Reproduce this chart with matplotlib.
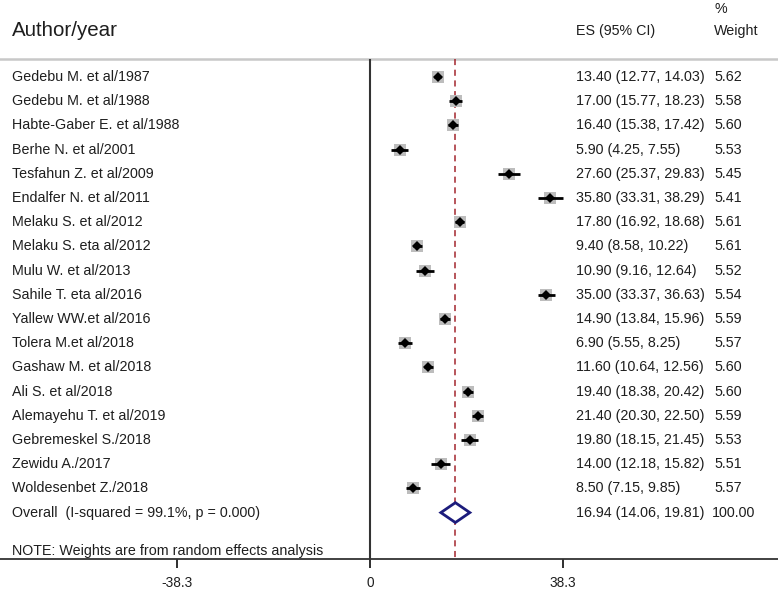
import matplotlib.pyplot as plt
import numpy as np

plt.rcParams['font.family'] = ['Liberation Sans', 'DejaVu Sans']

# study data
studies = ['Gedebu M. et al/1987', 'Gedebu M. et al/1988', 'Habte-Gaber E. et al/1988',
           'Berhe N. et al/2001', 'Tesfahun Z. et al/2009', 'Endalfer N. et al/2011',
           'Melaku S. et al/2012', 'Melaku S. eta al/2012', 'Mulu W. et al/2013',
           'Sahile T. eta al/2016', 'Yallew WW.et al/2016', 'Tolera M.et al/2018',
           'Gashaw M. et al/2018', 'Ali S. et al/2018', 'Alemayehu T. et al/2019',
           'Gebremeskel S./2018', 'Zewidu A./2017', 'Woldesenbet Z./2018']
es = [13.40, 17.00, 16.40, 5.90, 27.60, 35.80, 17.80, 9.40, 10.90,
      35.00, 14.90, 6.90, 11.60, 19.40, 21.40, 19.80, 14.00, 8.50]
lo = [12.77, 15.77, 15.38, 4.25, 25.37, 33.31, 16.92, 8.58, 9.16,
      33.37, 13.84, 5.55, 10.64, 18.38, 20.30, 18.15, 12.18, 7.15]
hi = [14.03, 18.23, 17.42, 7.55, 29.83, 38.29, 18.68, 10.22, 12.64,
      36.63, 15.96, 8.25, 12.56, 20.42, 22.50, 21.45, 15.82, 9.85]
weights = [5.62, 5.58, 5.60, 5.53, 5.45, 5.41, 5.61, 5.61, 5.52,
           5.54, 5.59, 5.57, 5.60, 5.60, 5.59, 5.53, 5.51, 5.57]

overall_es, overall_lo, overall_hi = 16.94, 14.06, 19.81
overall_label = 'Overall  (I-squared = 99.1%, p = 0.000)'
note = 'NOTE: Weights are from random effects analysis'
xticks = [-38.3, 0, 38.3]
xtick_labels = ['-38.3', '0', '38.3']

TXT = '#1e1e1e'
FS = 10.3
W, H = 778, 592
PX = 38.3 / 193.0      # data units per pixel
ROW = 24.2             # pixels per row

fig = plt.figure(figsize=(W / 100, H / 100), dpi=100)
ax = fig.add_axes([0, 0, 1, 1])
ax.set_xlim(-370 * PX, (W - 370) * PX)
ax.set_ylim((H - 77) / ROW, -77 / ROW)
tr = ax.get_yaxis_transform()

n = len(studies)
y = np.arange(n)
y_overall = n
y_note = (551 - 77) / ROW
y_axis = (559 - 77) / ROW
y_hline = (59 - 77) / ROW
y_head = (31 - 77) / ROW
y_pct = (9 - 77) / ROW

# header
ax.axhline(y_hline, color='#c8c8c8', lw=1.8)
ax.text(0.015, y_head, 'Author/year', transform=tr, fontsize=14.8, color=TXT, va='center')
ax.text(0.740, y_head, 'ES (95% CI)', transform=tr, fontsize=FS, color=TXT, va='center')
ax.text(0.918, y_head, 'Weight', transform=tr, fontsize=FS, color=TXT, va='center')
ax.text(0.918, y_pct, '%', transform=tr, fontsize=FS, color=TXT, va='center')

# reference lines
ax.vlines(0, y_hline, y_axis, color='#333333', lw=1.5)
ax.vlines(overall_es, y_hline, y_axis, color='#a3262e', lw=1.1,
          linestyles=(0, (4, 3)))

# studies
for i in range(n):
    ax.plot(es[i], y[i], marker='s', color='#bdbdbd', ms=9.2 * np.sqrt(weights[i] / 5.62),
            mew=0, zorder=2)
    ax.plot([lo[i], hi[i]], [y[i], y[i]], color='black', lw=2.0, solid_capstyle='butt', zorder=3)
    ax.plot(es[i], y[i], marker='D', color='black', ms=5.6, mew=0, zorder=4)
    ax.text(0.015, y[i], studies[i], transform=tr, fontsize=FS, color=TXT, va='center')
    ax.text(0.740, y[i], '%.2f (%.2f, %.2f)' % (es[i], lo[i], hi[i]),
            transform=tr, fontsize=FS, color=TXT, va='center')
    ax.text(0.918, y[i], '%.2f' % weights[i], transform=tr, fontsize=FS, color=TXT, va='center')

# overall diamond
dh = 0.41
ax.fill([overall_lo, overall_es, overall_hi, overall_es, overall_lo],
        [y_overall, y_overall - dh, y_overall, y_overall + dh, y_overall],
        facecolor='white', edgecolor='#1c1c7c', lw=2.0, zorder=4)
ax.text(0.015, y_overall, overall_label, transform=tr, fontsize=FS, color=TXT, va='center')
ax.text(0.740, y_overall, '%.2f (%.2f, %.2f)' % (overall_es, overall_lo, overall_hi),
        transform=tr, fontsize=FS, color=TXT, va='center')
ax.text(0.915, y_overall, '100.00', transform=tr, fontsize=FS, color=TXT, va='center')
ax.text(0.015, y_note, note, transform=tr, fontsize=FS, color=TXT, va='center')

# x axis
for s in ['top', 'left', 'right']:
    ax.spines[s].set_visible(False)
ax.spines['bottom'].set_position(('data', y_axis))
ax.spines['bottom'].set_color('#333333')
ax.spines['bottom'].set_linewidth(1.3)
ax.set_xticks(xticks)
ax.set_xticklabels(xtick_labels)
ax.set_yticks([])
ax.tick_params(axis='x', direction='out', length=6.5, width=1.3, pad=5.5,
               labelsize=9.8, colors=TXT)

fig.savefig('out.png', dpi=100)
